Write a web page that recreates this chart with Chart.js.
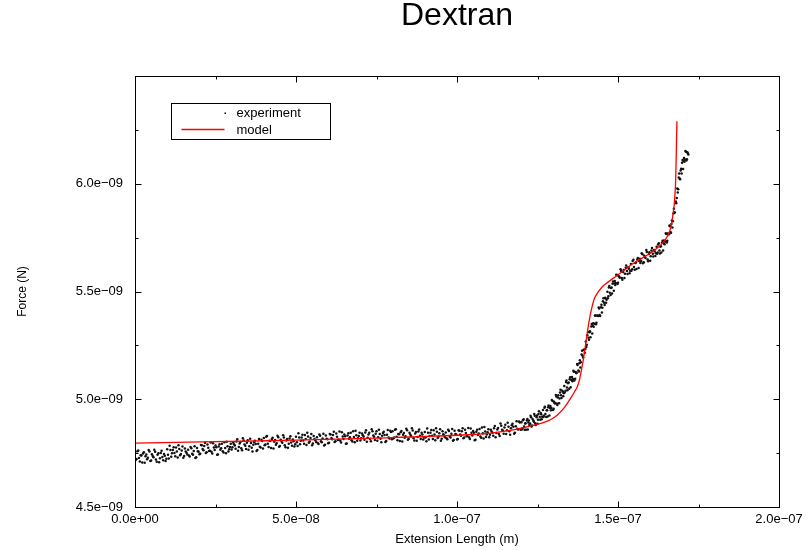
<!DOCTYPE html>
<html>
<head>
<meta charset="utf-8">
<script src="https://cdn.jsdelivr.net/npm/chart.js@4.4.1/dist/chart.umd.min.js"></script>
<style>
  body { margin: 0; background: #fff; }
</style>
</head>
<body>
<canvas id="myChart" width="812" height="550"></canvas>
<script>
// extension in nm, force in nN (axis labels are written in m and N)
var expX = [
    0, 0.5, 1, 1.5, 2, 2.5, 3, 3.5, 4, 4.5, 5, 5.5, 6, 6.5, 7, 7.5, 8, 8.5, 9, 9.5,
    10, 10.5, 11, 11.5, 12, 12.5, 13, 13.5, 14, 14.5, 15, 15.5, 16, 16.5, 17, 17.5, 18, 18.5, 19, 19.5,
    20, 20.5, 21, 21.5, 22, 22.5, 23, 23.5, 24, 24.5, 25, 25.5, 26, 26.5, 27, 27.5, 28, 28.5, 29, 29.5,
    30, 30.5, 31, 31.5, 32, 32.5, 33, 33.5, 34, 34.5, 35, 35.5, 36, 36.5, 37, 37.5, 38, 38.5, 39, 39.5,
    40, 40.5, 41, 41.5, 42, 42.5, 43, 43.5, 44, 44.5, 45, 45.5, 46, 46.5, 47, 47.5, 48, 48.5, 49, 49.5,
    50, 50.5, 51, 51.5, 52, 52.5, 53, 53.5, 54, 54.5, 55, 55.5, 56, 56.5, 57, 57.5, 58, 58.5, 59, 59.5,
    60, 60.5, 61, 61.5, 62, 62.5, 63, 63.5, 64, 64.5, 65, 65.5, 66, 66.5, 67, 67.5, 68, 68.5, 69, 69.5,
    70, 70.5, 71, 71.5, 72, 72.5, 73, 73.5, 74, 74.5, 75, 75.5, 76, 76.5, 77, 77.5, 78, 78.5, 79, 79.5,
    80, 80.5, 81, 81.5, 82, 82.5, 83, 83.5, 84, 84.5, 85, 85.5, 86, 86.5, 87, 87.5, 88, 88.5, 89, 89.5,
    90, 90.5, 91, 91.5, 92, 92.5, 93, 93.5, 94, 94.5, 95, 95.5, 96, 96.5, 97, 97.5, 98, 98.5, 99, 99.5,
    100, 100.5, 101, 101.5, 102, 102.5, 103, 103.5, 104, 104.5, 105, 105.5, 106, 106.5, 107, 107.5, 108, 108.5, 109, 109.5,
    110, 110.5, 111, 111.5, 112, 112.5, 113, 113.5, 114, 114.5, 115, 115.5, 116, 116.5, 117, 117.5, 118, 118.5, 119, 119.5,
    120.0, 120.3, 120.7, 121.0, 121.3, 121.7, 122.0, 122.3, 122.7, 123.0, 123.3, 123.7, 124.0, 124.3, 124.7, 125.0, 125.3, 125.7, 126.0, 126.3,
    126.7, 127.0, 127.3, 127.7, 128.0, 128.3, 128.7, 129.0, 129.3, 129.7, 130.0, 130.3, 130.7, 131.0, 131.3, 131.7, 132.0, 132.3, 132.7, 133.0,
    133.3, 133.7, 134.0, 134.3, 134.7, 135.0, 135.3, 135.7, 136.0, 136.3, 136.7, 137.0, 137.3, 137.7, 138.0, 138.3, 138.7, 139.0, 139.3, 139.7,
    140.0, 140.3, 140.7, 141.0, 141.3, 141.7, 142.0, 142.3, 142.7, 143.0, 143.3, 143.7, 144.0, 144.3, 144.7, 145.0, 145.3, 145.7, 146.0, 146.3,
    146.7, 147.0, 147.3, 147.7, 148.0, 148.3, 148.7, 149.0, 149.3, 149.7, 150.0, 150.4, 150.8, 151.2, 151.6, 152.0, 152.4, 152.8, 153.2, 153.6,
    154.0, 154.4, 154.8, 155.2, 155.6, 156.0, 156.4, 156.8, 157.2, 157.6, 158.0, 158.4, 158.8, 159.2, 159.6, 160.0, 160.4, 160.8, 161.2, 161.6,
    162.0, 162.3, 162.7, 163.0, 163.3, 163.7, 164.0, 164.3, 164.7, 165.0, 165.3, 165.7, 166.0, 166.3, 166.6, 166.9, 167.2, 167.5, 167.8, 168.1,
    168.4, 168.7, 169.0, 169.3, 169.6, 169.9, 170.2, 170.5, 170.8, 171.1, 171.4, 171.7
];
var expF = [
    4.753, 4.723, 4.762, 4.711, 4.739, 4.748, 4.705, 4.744, 4.729, 4.757, 4.716, 4.737, 4.766, 4.720, 4.742, 4.708, 4.751, 4.732, 4.746, 4.714,
    4.768, 4.725, 4.764, 4.749, 4.777, 4.736, 4.757, 4.786, 4.740, 4.762, 4.728, 4.771, 4.752, 4.766, 4.734, 4.773, 4.743, 4.782, 4.731, 4.759,
    4.745, 4.788, 4.769, 4.783, 4.751, 4.790, 4.760, 4.799, 4.748, 4.776, 4.785, 4.742, 4.781, 4.766, 4.794, 4.753, 4.774, 4.803, 4.757, 4.779,
    4.767, 4.799, 4.785, 4.804, 4.761, 4.795, 4.773, 4.819, 4.790, 4.769, 4.810, 4.782, 4.797, 4.758, 4.801, 4.792, 4.764, 4.815, 4.776, 4.806,
    4.820, 4.790, 4.829, 4.778, 4.806, 4.815, 4.772, 4.811, 4.796, 4.824, 4.783, 4.804, 4.833, 4.787, 4.809, 4.775, 4.818, 4.799, 4.813, 4.781,
    4.826, 4.783, 4.822, 4.807, 4.835, 4.794, 4.815, 4.844, 4.798, 4.820, 4.786, 4.829, 4.810, 4.824, 4.792, 4.831, 4.801, 4.840, 4.789, 4.817,
    4.796, 4.839, 4.820, 4.834, 4.802, 4.841, 4.811, 4.850, 4.799, 4.827, 4.836, 4.793, 4.832, 4.817, 4.845, 4.804, 4.825, 4.854, 4.808, 4.830,
    4.809, 4.841, 4.827, 4.846, 4.803, 4.837, 4.815, 4.861, 4.832, 4.811, 4.852, 4.824, 4.839, 4.800, 4.843, 4.834, 4.806, 4.857, 4.818, 4.848,
    4.852, 4.822, 4.861, 4.810, 4.838, 4.847, 4.804, 4.843, 4.828, 4.856, 4.815, 4.836, 4.865, 4.819, 4.841, 4.807, 4.850, 4.831, 4.845, 4.813,
    4.848, 4.805, 4.844, 4.829, 4.857, 4.816, 4.837, 4.866, 4.820, 4.842, 4.808, 4.851, 4.832, 4.846, 4.814, 4.853, 4.823, 4.862, 4.811, 4.839,
    4.813, 4.856, 4.837, 4.851, 4.819, 4.858, 4.828, 4.867, 4.816, 4.844, 4.853, 4.810, 4.849, 4.834, 4.862, 4.821, 4.842, 4.871, 4.825, 4.847,
    4.824, 4.858, 4.845, 4.866, 4.824, 4.860, 4.839, 4.887, 4.859, 4.840, 4.882, 4.856, 4.872, 4.835, 4.879, 4.872, 4.845, 4.898, 4.860, 4.892,
    4.893, 4.865, 4.907, 4.858, 4.889, 4.901, 4.860, 4.901, 4.888, 4.917, 4.878, 4.901, 4.931, 4.889, 4.916, 4.886, 4.932, 4.918, 4.936, 4.907,
    4.950, 4.923, 4.965, 4.918, 4.949, 4.963, 4.925, 4.969, 4.959, 4.992, 4.956, 4.983, 5.020, 4.980, 5.008, 4.982, 5.031, 5.018, 5.040, 5.014,
    5.061, 5.040, 5.087, 5.042, 5.078, 5.093, 5.056, 5.103, 5.094, 5.128, 5.095, 5.122, 5.163, 5.133, 5.167, 5.147, 5.208, 5.202, 5.230, 5.216,
    5.268, 5.253, 5.312, 5.276, 5.315, 5.338, 5.305, 5.353, 5.350, 5.387, 5.355, 5.388, 5.426, 5.391, 5.427, 5.403, 5.455, 5.448, 5.471, 5.448,
    5.499, 5.478, 5.525, 5.484, 5.519, 5.536, 5.503, 5.549, 5.540, 5.576, 5.541, 5.568, 5.603, 5.563, 5.591, 5.563, 5.610, 5.595, 5.613, 5.585,
    5.628, 5.603, 5.647, 5.601, 5.634, 5.648, 5.609, 5.652, 5.641, 5.673, 5.636, 5.660, 5.692, 5.649, 5.674, 5.643, 5.690, 5.675, 5.693, 5.665,
    5.708, 5.681, 5.724, 5.676, 5.710, 5.727, 5.690, 5.737, 5.732, 5.767, 5.735, 5.768, 5.806, 5.775, 5.813, 5.797, 5.862, 5.867, 5.911, 5.909,
    5.978, 5.974, 6.047, 6.021, 6.070, 6.097, 6.068, 6.119, 6.113, 6.149, 6.114, 6.140
];

// second pass of the experiment trace (points between the ones above)
var expX2 = [
    0.25, 0.75, 1.25, 1.75, 2.25, 2.75, 3.25, 3.75, 4.25, 4.75, 5.25, 5.75, 6.25, 6.75, 7.25, 7.75, 8.25, 8.75, 9.25, 9.75,
    10.25, 10.75, 11.25, 11.75, 12.25, 12.75, 13.25, 13.75, 14.25, 14.75, 15.25, 15.75, 16.25, 16.75, 17.25, 17.75, 18.25, 18.75, 19.25, 19.75,
    20.25, 20.75, 21.25, 21.75, 22.25, 22.75, 23.25, 23.75, 24.25, 24.75, 25.25, 25.75, 26.25, 26.75, 27.25, 27.75, 28.25, 28.75, 29.25, 29.75,
    30.25, 30.75, 31.25, 31.75, 32.25, 32.75, 33.25, 33.75, 34.25, 34.75, 35.25, 35.75, 36.25, 36.75, 37.25, 37.75, 38.25, 38.75, 39.25, 39.75,
    40.25, 40.75, 41.25, 41.75, 42.25, 42.75, 43.25, 43.75, 44.25, 44.75, 45.25, 45.75, 46.25, 46.75, 47.25, 47.75, 48.25, 48.75, 49.25, 49.75,
    50.25, 50.75, 51.25, 51.75, 52.25, 52.75, 53.25, 53.75, 54.25, 54.75, 55.25, 55.75, 56.25, 56.75, 57.25, 57.75, 58.25, 58.75, 59.25, 59.75,
    60.25, 60.75, 61.25, 61.75, 62.25, 62.75, 63.25, 63.75, 64.25, 64.75, 65.25, 65.75, 66.25, 66.75, 67.25, 67.75, 68.25, 68.75, 69.25, 69.75,
    70.25, 70.75, 71.25, 71.75, 72.25, 72.75, 73.25, 73.75, 74.25, 74.75, 75.25, 75.75, 76.25, 76.75, 77.25, 77.75, 78.25, 78.75, 79.25, 79.75,
    80.25, 80.75, 81.25, 81.75, 82.25, 82.75, 83.25, 83.75, 84.25, 84.75, 85.25, 85.75, 86.25, 86.75, 87.25, 87.75, 88.25, 88.75, 89.25, 89.75,
    90.25, 90.75, 91.25, 91.75, 92.25, 92.75, 93.25, 93.75, 94.25, 94.75, 95.25, 95.75, 96.25, 96.75, 97.25, 97.75, 98.25, 98.75, 99.25, 99.75,
    100.25, 100.75, 101.25, 101.75, 102.25, 102.75, 103.25, 103.75, 104.25, 104.75, 105.25, 105.75, 106.25, 106.75, 107.25, 107.75, 108.25, 108.75, 109.25, 109.75,
    110.25, 110.75, 111.25, 111.75, 112.25, 112.75, 113.25, 113.75, 114.25, 114.75, 115.25, 115.75, 116.25, 116.75, 117.25, 117.75, 118.25, 118.75, 119.25, 119.75,
    120.15, 120.45, 120.85, 121.15, 121.45, 121.85, 122.15, 122.45, 122.85, 123.15, 123.45, 123.85, 124.15, 124.45, 124.85, 125.15, 125.45, 125.85, 126.15, 126.45,
    126.85, 127.15, 127.45, 127.85, 128.15, 128.45, 128.85, 129.15, 129.45, 129.85, 130.15, 130.45, 130.85, 131.15, 131.45, 131.85, 132.15, 132.45, 132.85, 133.15,
    133.45, 133.85, 134.15, 134.45, 134.85, 135.15, 135.45, 135.85, 136.15, 136.45, 136.85, 137.15, 137.45, 137.85, 138.15, 138.45, 138.85, 139.15, 139.45, 139.85,
    140.15, 140.45, 140.85, 141.15, 141.45, 141.85, 142.15, 142.45, 142.85, 143.15, 143.45, 143.85, 144.15, 144.45, 144.85, 145.15, 145.45, 145.85, 146.15, 146.45,
    146.85, 147.15, 147.45, 147.85, 148.15, 148.45, 148.85, 149.15, 149.45, 149.85, 150.15, 150.55, 150.95, 151.35, 151.75, 152.15, 152.55, 152.95, 153.35, 153.75,
    154.15, 154.55, 154.95, 155.35, 155.75, 156.15, 156.55, 156.95, 157.35, 157.75, 158.15, 158.55, 158.95, 159.35, 159.75, 160.15, 160.55, 160.95, 161.35, 161.75,
    162.15, 162.45, 162.85, 163.15, 163.45, 163.85, 164.15, 164.45, 164.85, 165.15, 165.45, 165.85, 166.15, 166.45, 166.75, 167.05, 167.35, 167.65, 167.95, 168.25,
    168.55, 168.85, 169.15, 169.45, 169.75, 170.05, 170.35, 170.65, 170.95, 171.25, 171.55, 171.85
];
var expF2 = [
    4.719, 4.759, 4.727, 4.740, 4.707, 4.754, 4.736, 4.722, 4.764, 4.713, 4.745, 4.731, 4.756, 4.710, 4.749, 4.726, 4.761, 4.717, 4.738, 4.724,
    4.742, 4.784, 4.733, 4.765, 4.751, 4.776, 4.730, 4.769, 4.746, 4.781, 4.737, 4.758, 4.744, 4.739, 4.779, 4.747, 4.760, 4.727, 4.774, 4.756,
    4.747, 4.786, 4.763, 4.798, 4.754, 4.775, 4.761, 4.756, 4.796, 4.764, 4.777, 4.744, 4.791, 4.773, 4.759, 4.801, 4.750, 4.782, 4.768, 4.793,
    4.777, 4.791, 4.770, 4.814, 4.779, 4.802, 4.763, 4.809, 4.784, 4.798, 4.766, 4.817, 4.775, 4.789, 4.807, 4.760, 4.793, 4.780, 4.812, 4.772,
    4.786, 4.826, 4.794, 4.807, 4.774, 4.821, 4.803, 4.789, 4.831, 4.780, 4.812, 4.798, 4.823, 4.777, 4.816, 4.793, 4.828, 4.784, 4.805, 4.791,
    4.800, 4.842, 4.791, 4.823, 4.809, 4.834, 4.788, 4.827, 4.804, 4.839, 4.795, 4.816, 4.802, 4.797, 4.837, 4.805, 4.818, 4.785, 4.832, 4.814,
    4.798, 4.837, 4.814, 4.849, 4.805, 4.826, 4.812, 4.807, 4.847, 4.815, 4.828, 4.795, 4.842, 4.824, 4.810, 4.852, 4.801, 4.833, 4.819, 4.844,
    4.819, 4.833, 4.812, 4.856, 4.821, 4.844, 4.805, 4.851, 4.826, 4.840, 4.808, 4.859, 4.817, 4.831, 4.849, 4.802, 4.835, 4.822, 4.854, 4.814,
    4.818, 4.858, 4.826, 4.839, 4.806, 4.853, 4.835, 4.821, 4.863, 4.812, 4.844, 4.830, 4.855, 4.809, 4.848, 4.825, 4.860, 4.816, 4.837, 4.823,
    4.822, 4.864, 4.813, 4.845, 4.831, 4.856, 4.810, 4.849, 4.826, 4.861, 4.817, 4.838, 4.824, 4.819, 4.859, 4.827, 4.840, 4.807, 4.854, 4.836,
    4.815, 4.854, 4.831, 4.866, 4.822, 4.843, 4.829, 4.824, 4.864, 4.832, 4.845, 4.812, 4.859, 4.841, 4.827, 4.869, 4.818, 4.850, 4.836, 4.861,
    4.835, 4.850, 4.831, 4.876, 4.843, 4.867, 4.830, 4.877, 4.854, 4.869, 4.839, 4.891, 4.851, 4.866, 4.886, 4.840, 4.875, 4.863, 4.897, 4.858,
    4.860, 4.902, 4.873, 4.888, 4.858, 4.908, 4.892, 4.880, 4.924, 4.874, 4.908, 4.896, 4.923, 4.881, 4.925, 4.905, 4.944, 4.905, 4.930, 4.919,
    4.918, 4.961, 4.932, 4.949, 4.920, 4.971, 4.959, 4.949, 4.996, 4.950, 4.988, 4.980, 5.013, 4.973, 5.018, 5.003, 5.044, 5.006, 5.035, 5.028,
    5.031, 5.080, 5.055, 5.074, 5.049, 5.102, 5.090, 5.084, 5.132, 5.087, 5.127, 5.122, 5.159, 5.129, 5.181, 5.172, 5.225, 5.194, 5.229, 5.233,
    5.242, 5.297, 5.285, 5.311, 5.288, 5.349, 5.341, 5.336, 5.389, 5.348, 5.389, 5.386, 5.421, 5.386, 5.439, 5.425, 5.469, 5.437, 5.467, 5.462,
    5.469, 5.518, 5.494, 5.516, 5.491, 5.546, 5.537, 5.530, 5.578, 5.535, 5.572, 5.564, 5.595, 5.555, 5.600, 5.582, 5.621, 5.581, 5.606, 5.596,
    5.596, 5.641, 5.614, 5.632, 5.604, 5.656, 5.642, 5.632, 5.678, 5.631, 5.666, 5.655, 5.683, 5.640, 5.682, 5.663, 5.702, 5.662, 5.687, 5.677,
    5.675, 5.718, 5.690, 5.708, 5.681, 5.736, 5.725, 5.719, 5.770, 5.727, 5.769, 5.766, 5.803, 5.773, 5.829, 5.826, 5.884, 5.867, 5.918, 5.934,
    5.959, 6.029, 6.024, 6.061, 6.047, 6.110, 6.105, 6.102, 6.152, 6.108, 6.146, 6.136
];

var modelX = [0, 25, 50, 75, 100, 110, 115, 120, 124, 127, 129, 131, 133, 134.2, 135.5, 136.5, 137.3, 138.1, 138.8, 139.3,
    139.8, 140.3, 140.7, 141.3, 141.9, 142.6, 143.5, 145, 146.6, 149.7, 152, 154.7, 157.5, 159.9, 162, 164, 165.3, 166.1,
    166.7, 167.1, 167.5, 167.7, 167.9, 168, 168.15, 168.3];
var modelF = [4.796, 4.803, 4.810, 4.820, 4.833, 4.842, 4.852, 4.866, 4.880, 4.893, 4.905, 4.925, 4.955, 4.980, 5.010, 5.035, 5.056, 5.095, 5.148, 5.190,
    5.240, 5.290, 5.333, 5.385, 5.426, 5.465, 5.490, 5.520, 5.540, 5.574, 5.600, 5.630, 5.655, 5.676, 5.700, 5.727, 5.755, 5.782,
    5.820, 5.860, 5.910, 5.954, 6.010, 6.074, 6.180, 6.290];

var xTicks = [0, 50, 100, 150, 200];          // labelled ticks (nm)
var yTicks = [4.5, 5.0, 5.5, 6.0];            // labelled ticks (nN)

function fmt(v) {       // nm / nN -> "5.0e−08" style
    var s = (v * 1e-9).toExponential(1).split('e');
    var e = parseInt(s[1]);
    var sign = e < 0 ? '\u2212' : '+';
    var d = Math.abs(e);
    return s[0] + 'e' + sign + (d < 10 ? '0' + d : d);
}
function isLabel(list, v) {
    for (let i = 0; i < list.length; i++) {
        if (Math.abs(list[i] - v) < 1e-6) return true;
    }
    return false;
}

var expData = [];
for (let i = 0; i < expX.length; i++) {
    expData.push({ x: expX[i], y: expF[i] });
}
for (let i = 0; i < expX2.length; i++) {
    expData.push({ x: expX2[i], y: expF2[i] });
}
var modelData = [];
for (let i = 0; i < modelX.length; i++) {
    modelData.push({ x: modelX[i], y: modelF[i] });
}

Chart.defaults.font.family = "'Liberation Sans', Arial, Helvetica, sans-serif";
Chart.defaults.color = '#000';

// frame, inward ticks and the boxed legend
var framePlugin = {
    id: 'frame',
    afterDraw: function (chart) {
        var ctx = chart.ctx;
        var a = chart.chartArea;
        var xs = chart.scales.x, ys = chart.scales.y;
        ctx.save();
        ctx.strokeStyle = '#000';
        ctx.lineWidth = 1;
        var l = Math.round(a.left) + 0.5, r = Math.round(a.right) + 0.5;
        var t = Math.round(a.top) + 0.5, b = Math.round(a.bottom) + 0.5;
        ctx.strokeRect(l, t, r - l, b - t);
        ctx.beginPath();
        xs.ticks.forEach(function (tk) {
            var p = Math.round(xs.getPixelForValue(tk.value)) + 0.5;
            var len = isLabel(xTicks, tk.value) ? 6 : 3;
            ctx.moveTo(p, b); ctx.lineTo(p, b - len);
            ctx.moveTo(p, t); ctx.lineTo(p, t + len);
        });
        ys.ticks.forEach(function (tk) {
            var p = Math.round(ys.getPixelForValue(tk.value)) + 0.5;
            var len = (isLabel(yTicks, tk.value) || Math.abs(tk.value - 6.5) < 1e-6) ? 6 : 3;
            ctx.moveTo(l, p); ctx.lineTo(l + len, p);
            ctx.moveTo(r, p); ctx.lineTo(r - len, p);
        });
        ctx.stroke();

        // legend box
        var bx = Math.round(a.left) + 36.5, by = Math.round(a.top) + 27.5;
        ctx.strokeRect(bx, by, 159, 36);
        ctx.font = "13px 'Liberation Sans', Arial, sans-serif";
        ctx.fillStyle = '#000';
        ctx.textBaseline = 'middle';
        ctx.textAlign = 'left';
        var ds = chart.data.datasets;
        ctx.fillRect(bx + 53, by + 9, 1.5, 1.5);
        ctx.fillText(ds[0].label, bx + 65, by + 9.5);
        ctx.strokeStyle = '#ff0000';
        ctx.lineWidth = 1.5;
        ctx.beginPath();
        ctx.moveTo(bx + 10, by + 26);
        ctx.lineTo(bx + 53, by + 26);
        ctx.stroke();
        ctx.fillText(ds[1].label, bx + 65, by + 26.5);
        ctx.restore();
    }
};

let myChart = document.getElementById("myChart").getContext('2d');

const scatterChart = new Chart(myChart, {
    type: 'scatter',
    data: {
        datasets: [{
            label: 'experiment',
            data: expData,
            backgroundColor: '#111',
            borderWidth: 0,
            pointRadius: 1.25,
            pointHoverRadius: 1.25,
            order: 2
        }, {
            type: 'line',
            label: 'model',
            data: modelData,
            borderColor: '#ff0000',
            borderWidth: 1.3,
            pointRadius: 0,
            fill: false,
            cubicInterpolationMode: 'monotone',
            order: 1
        }]
    },
    options: {
        responsive: false,
        animation: false,
        layout: { padding: { left: 0, right: 33, top: 0, bottom: 0 } },
        scales: {
            x: {
                type: 'linear',
                min: 0,
                max: 200,
                grid: { display: false, drawTicks: false },
                border: { display: false },
                ticks: {
                    stepSize: 25,
                    autoSkip: false,
                    maxRotation: 0,
                    padding: 5,
                    font: { size: 13 },
                    callback: function (v) { return isLabel(xTicks, v) ? fmt(v) : ''; }
                },
                title: {
                    display: true,
                    text: 'Extension Length (m)',
                    font: { size: 13 },
                    padding: { top: 0, bottom: 3 }
                },
                afterFit: function (scale) { scale.height = 43; }
            },
            y: {
                type: 'linear',
                min: 4.5,
                max: 6.5,
                grid: { display: false, drawTicks: false },
                border: { display: false },
                ticks: {
                    stepSize: 0.25,
                    autoSkip: false,
                    padding: 12,
                    font: { size: 13 },
                    callback: function (v) { return isLabel(yTicks, v) ? fmt(v) : ''; }
                },
                title: {
                    display: true,
                    text: 'Force (N)',
                    font: { size: 12 },
                    padding: { top: 15, bottom: 0 }
                },
                afterFit: function (scale) { scale.width = 135; }
            }
        },
        plugins: {
            legend: { display: false },
            tooltip: { enabled: false },
            title: {
                display: true,
                fullSize: false,
                text: 'Dextran',
                font: { size: 32, weight: 'normal', lineHeight: 1.0 },
                color: '#000',
                padding: { top: 0, bottom: 44 }
            }
        }
    },
    plugins: [framePlugin]
});
</script>
</body>
</html>
